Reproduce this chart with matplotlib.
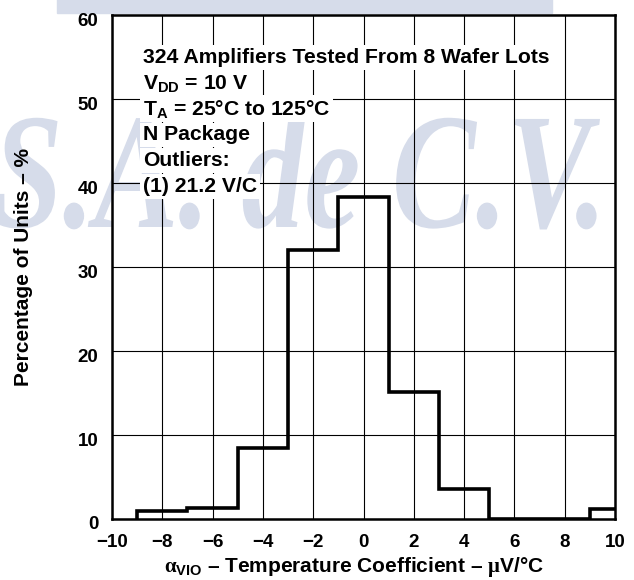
import matplotlib
matplotlib.use("Agg")
import matplotlib.pyplot as plt
from matplotlib.patches import Rectangle, PathPatch
from matplotlib.textpath import TextPath
from matplotlib.font_manager import FontProperties
from matplotlib.transforms import Affine2D, ScaledTranslation

# histogram (bin edges in uV/C, heights in %)
bin_edges = [-9, -7, -5, -3, -1, 1, 3, 5, 7, 9, 11]
pct_units = [0.9, 1.3, 8.5, 32.0, 38.3, 15.1, 3.6, 0.0, 0.0, 1.2]

x_ticks = [-10, -8, -6, -4, -2, 0, 2, 4, 6, 8, 10]
y_ticks = [0, 10, 20, 30, 40, 50, 60]

notes = [
    "324 Amplifiers Tested From 8 Wafer Lots",
    r"V$_{\mathbf{DD}}$ = 10 V",
    r"T$_{\mathbf{A}}$ = 25°C to 125°C",
    "N Package",
    "Outliers:",
    "(1) 21.2 V/C",
]

plt.rcParams['font.family'] = ['Liberation Sans', 'DejaVu Sans']
plt.rcParams['font.weight'] = 'bold'
plt.rcParams['axes.labelweight'] = 'bold'
plt.rcParams['mathtext.fontset'] = 'custom'
plt.rcParams['mathtext.bf'] = 'Liberation Sans:bold'
plt.rcParams['mathtext.rm'] = 'Liberation Sans:bold'
plt.rcParams['mathtext.it'] = 'Liberation Serif'

fig = plt.figure(figsize=(6.34, 5.8), dpi=100)
fig.patch.set_facecolor('white')

# faint watermark behind the chart (pixel coords)
wm = '#d6dcea'
fig.add_artist(Rectangle((0.09, 0.978), 0.78, 0.03, transform=fig.transFigure,
                         color=wm, zorder=-2))
fp = FontProperties(family='Liberation Serif', style='italic', weight='bold')
tp = TextPath((0, 0), "S.A. de C.V.", size=165, prop=fp)
ext = tp.get_extents()
sx = 605 / ext.width
wm_tr = Affine2D().scale(sx, 1.0).translate(-5 - ext.x0 * sx, 353)
fig.add_artist(PathPatch(tp, transform=wm_tr, facecolor=wm, edgecolor='none', zorder=-2))

ax = fig.add_axes([0.1767, 0.1052, 0.7933, 0.8688])
ax.patch.set_alpha(0)

ax.stairs(pct_units, bin_edges, baseline=0, color='black', lw=2.6, zorder=3)

ax.set_xlim(-10, 10)
ax.set_ylim(0, 60)
ax.set_xticks(x_ticks)
ax.set_yticks(y_ticks)
ax.tick_params(length=0, labelsize=13.5)
ax.tick_params(axis='x', pad=11)
ax.tick_params(axis='y', pad=10)
ax.grid(True, color='black', lw=0.8)
ax.set_axisbelow(True)
for s in ax.spines.values():
    s.set_linewidth(1.8)

# y tick labels sit a little below their grid lines in the original
off = ScaledTranslation(0, -4 / 100, fig.dpi_scale_trans)
for lab in ax.get_yticklabels():
    lab.set_transform(lab.get_transform() + off)

ax.set_ylabel("Percentage of Units – %", fontsize=15, va='center')
ax.yaxis.set_label_coords(-0.177, 0.5)
ax.set_xlabel(r"$\alpha_{\mathbf{VIO}}$ – Temperature Coefficient – $\mu$V/°C",
              fontsize=15, va='center')
ax.xaxis.set_label_coords(0.481, -0.095)

for i, line in enumerate(notes):
    ax.text(0.0616, 0.905 - i * 0.0512, line, transform=ax.transAxes, fontsize=15.2,
            va='baseline', ha='left', zorder=4,
            bbox=dict(facecolor='white', edgecolor='none', pad=2))

fig.savefig("out.png", dpi=100)
